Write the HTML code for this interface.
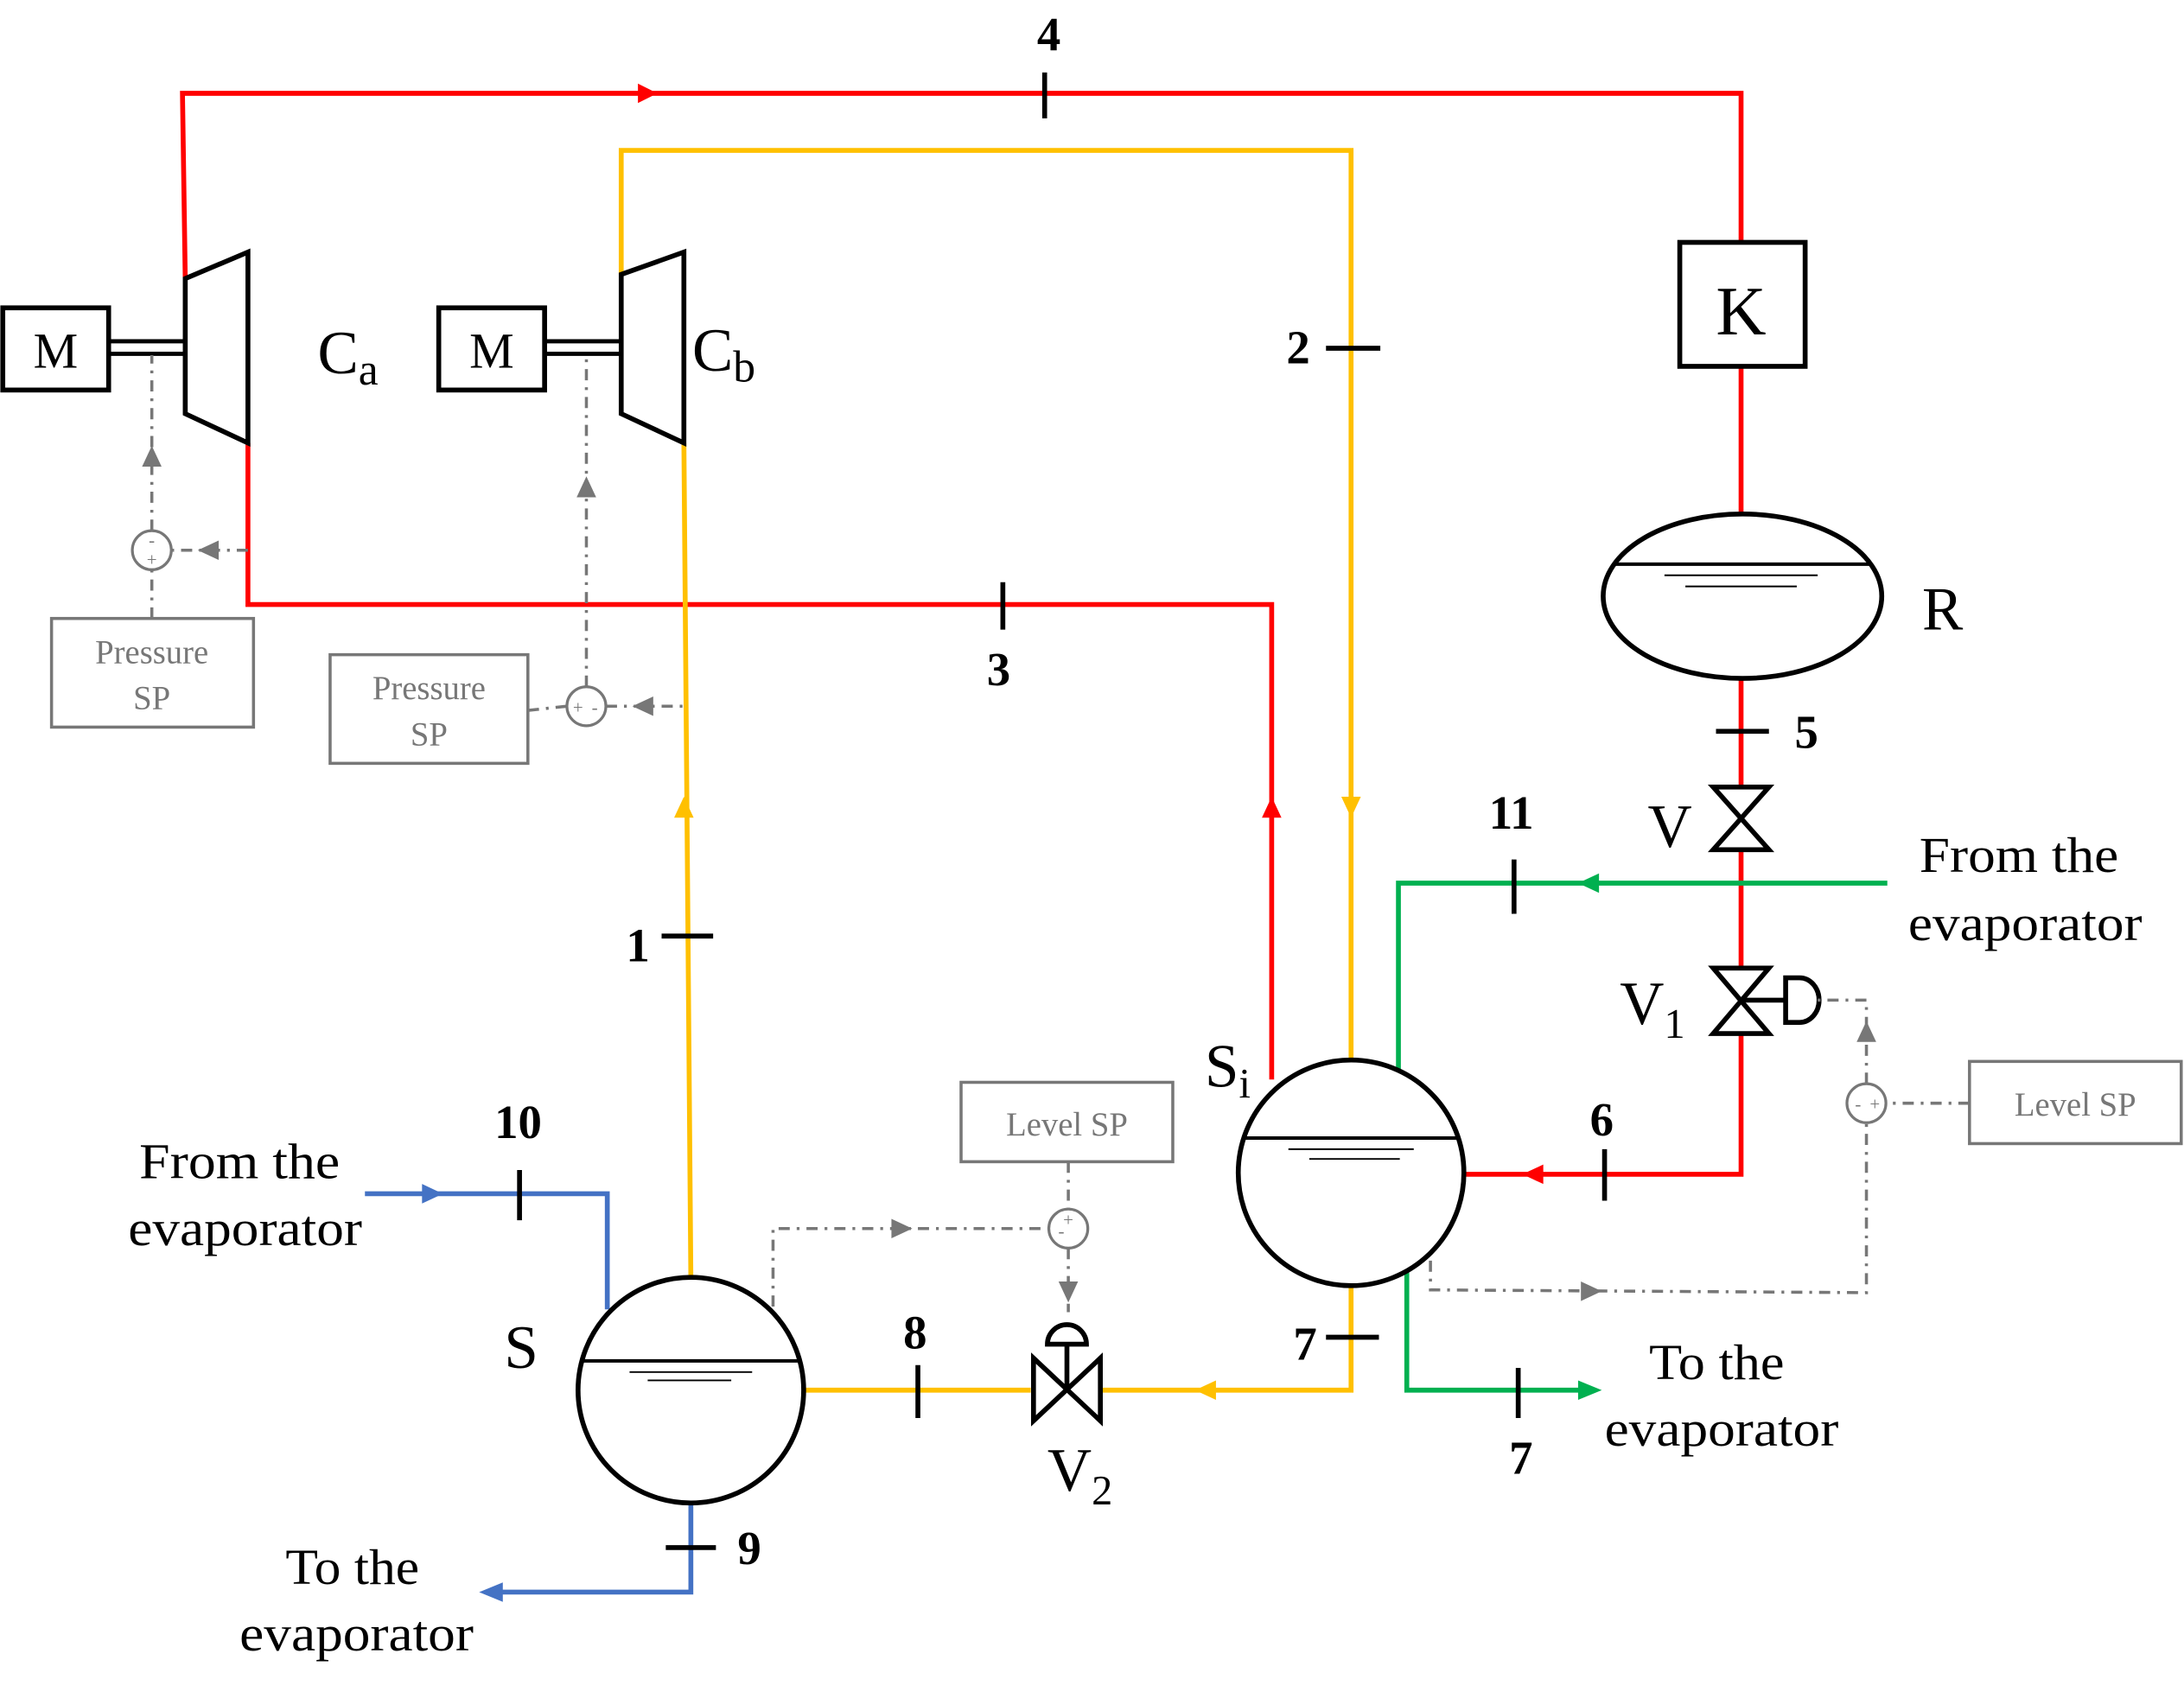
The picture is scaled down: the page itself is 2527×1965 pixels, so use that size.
<!DOCTYPE html>
<html><head><meta charset="utf-8"><style>
html,body{margin:0;padding:0;background:#fff}
svg{display:block}
text{font-family:"Liberation Serif",serif}
.n{font-weight:bold;font-size:34px}
.l{font-size:36px}
.g{font-size:24px;fill:#777}
</style></head><body>
<svg width="2527" height="1965" viewBox="0 0 1568 1219" preserveAspectRatio="none" xmlns="http://www.w3.org/2000/svg">
<g fill="none" stroke-width="3.5">
<path d="M133,200 L131,67 L1250,67 L1250,174 M1250,263 L1250,370 M1250,487 L1250,843 L1051,843 M178,318 L178,434 L913,434 L913,775" stroke="#f00"/>
<path d="M446,197 L446,108 L970,108 L970,765 M491,318 L496,918 M970,922 L970,998 L790,998 M740,998 L578,998" stroke="#ffc000"/>
<path d="M1355,634 L1004,634 L1004,770 M1010,912 L1010,998 L1135,998" stroke="#00b050"/>
<path d="M262,857 L436,857 L436,940 M496,1079 L496,1143 L358,1143" stroke="#4472c4"/>
</g>
<polygon points="472,67 458,60 458,74" fill="#f00"/>
<polygon points="913,572 906,587 920,587" fill="#f00"/>
<polygon points="1093,843 1108,836 1108,850" fill="#f00"/>
<polygon points="491,572 484,587 498,587" fill="#ffc000"/>
<polygon points="970,587 963,572 977,572" fill="#ffc000"/>
<polygon points="858,998 873,991 873,1005" fill="#ffc000"/>
<polygon points="1133,634 1148,627 1148,641" fill="#00b050"/>
<polygon points="1150,998 1133,991 1133,1005" fill="#00b050"/>
<polygon points="318,857 303,850 303,864" fill="#4472c4"/>
<polygon points="344,1143 361,1136 361,1150" fill="#4472c4"/>
<g stroke="#000" stroke-width="3.5">
<line x1="750" y1="52" x2="750" y2="85"/>
<line x1="720" y1="418" x2="720" y2="452"/>
<line x1="952" y1="250" x2="991" y2="250"/>
<line x1="475" y1="672" x2="512" y2="672"/>
<line x1="659" y1="980" x2="659" y2="1018"/>
<line x1="952" y1="960" x2="990" y2="960"/>
<line x1="1152" y1="825" x2="1152" y2="862"/>
<line x1="1232" y1="525" x2="1270" y2="525"/>
<line x1="1087" y1="617" x2="1087" y2="656"/>
<line x1="1090" y1="982" x2="1090" y2="1018"/>
<line x1="373" y1="840" x2="373" y2="876"/>
<line x1="478" y1="1111" x2="514" y2="1111"/>
</g>
<g fill="#fff" stroke="#000" stroke-width="3.5">
<rect x="2" y="221" width="76" height="59"/>
<rect x="315" y="221" width="76" height="59"/>
<polygon points="133,200 178,181 178,318 133,297"/>
<polygon points="446,197 491,181 491,318 446,297"/>
<rect x="1206" y="174" width="90" height="89"/>
<ellipse cx="1251" cy="428" rx="100" ry="59"/>
<circle cx="970" cy="842" r="81"/>
<circle cx="496" cy="998" r="81"/>
</g>
<g stroke="#000" stroke-width="3">
<line x1="78" y1="245" x2="133" y2="245"/><line x1="78" y1="254" x2="133" y2="254"/>
<line x1="391" y1="245" x2="446" y2="245"/><line x1="391" y1="254" x2="446" y2="254"/>
</g>
<g stroke="#000">
<line x1="1158" y1="405" x2="1343" y2="405" stroke-width="2.5"/>
<line x1="1195" y1="413" x2="1305" y2="413" stroke-width="1.2"/>
<line x1="1210" y1="421" x2="1290" y2="421" stroke-width="1.2"/>
<line x1="892" y1="817" x2="1048" y2="817" stroke-width="2.5"/>
<line x1="925" y1="825" x2="1015" y2="825" stroke-width="1.2"/>
<line x1="940" y1="832" x2="1005" y2="832" stroke-width="1.2"/>
<line x1="417" y1="977" x2="575" y2="977" stroke-width="2.5"/>
<line x1="452" y1="985" x2="540" y2="985" stroke-width="1.2"/>
<line x1="465" y1="991" x2="525" y2="991" stroke-width="1.2"/>
</g>
<g fill="#fff" stroke="#000" stroke-width="3.5">
<polygon points="1230,565 1270,565 1230,610 1270,610"/>
<polygon points="1230,695 1270,695 1230,742 1270,742"/>
<line x1="1250" y1="718" x2="1282" y2="718"/>
<path d="M1282,702 L1292,702 A14,16 0 0 1 1292,734 L1282,734 Z"/>
<polygon points="742,975 742,1020 790,975 790,1020"/>
<line x1="766" y1="998" x2="766" y2="965"/>
<path d="M752,965 A14,14 0 0 1 780,965 Z"/>
</g>
<g fill="none" stroke="#777" stroke-width="2.2" stroke-dasharray="8,5,2,5">
<path d="M109,444 L109,409 M109,381 L109,255 M178,395 L123,395"/>
<path d="M379,510 L407,507 M435,507 L491,507 M421,493 L421,255"/>
<path d="M767,834 L767,868 M767,896 L767,942 M555,938 L555,882 L753,882"/>
<path d="M1414,792 L1354,792 M1340,778 L1340,718 L1305,718 M1027,905 L1027,926 L1340,928 L1340,806"/>
</g>
<g fill="#fff" stroke="#777" stroke-width="2">
<circle cx="109" cy="395" r="14"/><circle cx="421" cy="507" r="14"/>
<circle cx="767" cy="882" r="14"/><circle cx="1340" cy="792" r="14"/>
</g>
<g fill="#777">
<polygon points="109,320 102,335 116,335"/><polygon points="142,395 157,388 157,402"/>
<polygon points="421,342 414,357 428,357"/><polygon points="454,507 469,500 469,514"/>
<polygon points="767,935 760,920 774,920"/><polygon points="655,882 640,875 640,889"/>
<polygon points="1340,733 1333,748 1347,748"/><polygon points="1150,927 1135,920 1135,934"/>
</g>
<g font-size="13" fill="#777" text-anchor="middle">
<text x="109" y="392">-</text><text x="109" y="406">+</text>
<text x="415" y="512">+</text><text x="427" y="512">-</text>
<text x="767" y="880">+</text><text x="762" y="888">-</text>
<text x="1334" y="797">-</text><text x="1346" y="797">+</text>
</g>
<g fill="#fff" stroke="#777" stroke-width="2.2">
<rect x="37" y="444" width="145" height="78"/>
<rect x="237" y="470" width="142" height="78"/>
<rect x="690" y="777" width="152" height="57"/>
<rect x="1414" y="762" width="152" height="59"/>
</g>
<g class="g" text-anchor="middle">
<text x="109" y="476">Pressure</text><text x="109" y="509">SP</text>
<text x="308" y="502">Pressure</text><text x="308" y="535">SP</text>
<text x="766" y="815">Level SP</text>
<text x="1490" y="801">Level SP</text>
</g>
<g text-anchor="middle">
<text class="l" x="40" y="264">M</text>
<text class="l" x="353" y="264">M</text>
<text x="1250" y="240" font-size="50">K</text>
<text class="n" x="753" y="36">4</text>
<text class="n" x="717" y="492">3</text>
<text class="n" x="932" y="261">2</text>
<text class="n" x="458" y="690">1</text>
<text class="n" x="1297" y="537">5</text>
<text class="n" x="1085" y="595">11</text>
<text class="n" x="1150" y="815">6</text>
<text class="n" x="657" y="968">8</text>
<text class="n" x="937" y="976">7</text>
<text class="n" x="1092" y="1058">7</text>
<text class="n" x="372" y="817">10</text>
<text class="n" x="538" y="1123">9</text>
</g>
<g class="l">
<text x="100" y="846" textLength="144" lengthAdjust="spacingAndGlyphs">From the</text>
<text x="92" y="894" textLength="168" lengthAdjust="spacingAndGlyphs">evaporator</text>
<text x="1378" y="626" textLength="143" lengthAdjust="spacingAndGlyphs">From the</text>
<text x="1370" y="675" textLength="168" lengthAdjust="spacingAndGlyphs">evaporator</text>
<text x="1184" y="990" textLength="97" lengthAdjust="spacingAndGlyphs">To the</text>
<text x="1152" y="1038" textLength="168" lengthAdjust="spacingAndGlyphs">evaporator</text>
<text x="205" y="1137" textLength="96" lengthAdjust="spacingAndGlyphs">To the</text>
<text x="172" y="1185" textLength="168" lengthAdjust="spacingAndGlyphs">evaporator</text>
</g>
<g font-size="44">
<text x="228" y="268">C<tspan font-size="32" dy="8">a</tspan></text>
<text x="497" y="266">C<tspan font-size="32" dy="8">b</tspan></text>
<text x="1380" y="452">R</text>
<text x="362" y="982">S</text>
<text x="865" y="780">S<tspan font-size="30" dy="8">i</tspan></text>
<text x="1183" y="608">V</text>
<text x="1163" y="735">V<tspan font-size="30" dy="10">1</tspan></text>
<text x="752" y="1070">V<tspan font-size="30" dy="10">2</tspan></text>
</g>
</svg>
</body></html>
